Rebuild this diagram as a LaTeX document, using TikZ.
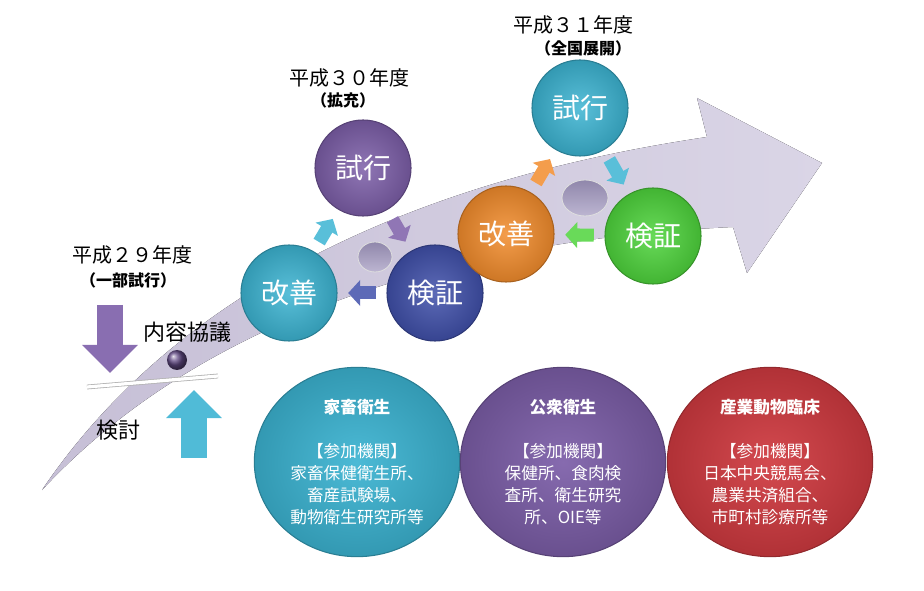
\documentclass[tikz,border=0pt]{standalone}
\usepackage{fontspec}
\setmainfont{Noto Sans CJK JP}
\usepackage{tikz}
\usetikzlibrary{shapes.geometric,arrows.meta}
\definecolor{swooshdk}{RGB}{198,191,214}
\definecolor{swooshlt}{RGB}{218,213,230}
\definecolor{tealc}{RGB}{60,180,210}
\definecolor{purpc}{RGB}{124,94,168}
\definecolor{bluec}{RGB}{64,80,170}
\definecolor{orangec}{RGB}{242,140,44}
\definecolor{greenc}{RGB}{78,212,60}
\definecolor{redc}{RGB}{208,58,64}
\definecolor{diskc}{RGB}{160,150,190}
\tikzset{
  font={\fontsize{11pt}{14pt}\selectfont},
  cyc/.style={circle, minimum size=72pt, inner sep=0pt, text=white,
    inner color=#1!85!white, outer color=#1!85!black, draw=#1!70!black, line width=0.8pt,
    font={\fontsize{21pt}{24pt}\selectfont}},
  field/.style={ellipse, minimum width=154pt, minimum height=142pt, inner sep=0pt,
    text=white, align=center,
    inner color=#1!92!white, outer color=#1!85!black, draw=#1!70!black, line width=0.8pt,
    font={\fontsize{12.5pt}{16.5pt}\selectfont}},
  cyarr/.style={draw=#1!85!white, line width=9.75pt, shorten <=8pt, shorten >=8pt,
    -{Triangle[length=9pt,width=19pt]}},
  bigarr/.style={draw=#1!90!white, line width=20pt, -{Triangle[length=21pt,width=40.5pt]}},
  disk/.style={ellipse, inner sep=0pt, top color=diskc!90!black, bottom color=diskc!70!white,
    draw=white!75!gray, line width=0.6pt},
  barline/.style={draw=gray!60, double=white, double distance=2.4pt, line width=0.6pt},
  yearlbl/.style={font={\fontsize{15pt}{18pt}\selectfont}},
  sublbl/.style={font={\bfseries\fontsize{12pt}{14pt}\selectfont}},
  steplbl/.style={font={\fontsize{16.5pt}{20pt}\selectfont}}
}

\begin{document}
\begin{tikzpicture}[x=0.75pt,y=-0.75pt]
\useasboundingbox (0,0) rectangle (924,591);
\fill [left color=swooshdk, right color=swooshlt] (42,490) .. controls (150,330) and (350,190) .. (707,137)
  -- (697,98) -- (822,163) -- (747,273) -- (733,227) .. controls (450,240) and (200,320) .. (42,490) -- cycle;
\coordinate (barL) at (87,387);
\coordinate (barR) at (218,376);
\draw [barline] (barL) -- (barR);
\node [circle, minimum size=15pt, inner sep=0pt, ball color=purpc!80!black] (ball) at (177,360) {};
\coordinate (dnA) at (110,305);
\coordinate (dnB) at (110,373);
\draw [bigarr=purpc] (dnA) -- (dnB);
\coordinate (upA) at (194,458);
\coordinate (upB) at (194,390);
\draw [bigarr=tealc] (upA) -- (upB);
\node [yearlbl] (y29) at (132,255) {平成２９年度};
\node [sublbl] (y29s) at (128,280) {（一部試行）};
\node [steplbl] (kyogi) at (187,332) {内容協議};
\node [steplbl] (kento) at (118,430) {検討};
\node [yearlbl] (y30) at (349,78) {平成３０年度};
\node [sublbl] (y30s) at (343,100) {（拡充）};
\node [yearlbl] (y31) at (573,25) {平成３１年度};
\node [sublbl] (y31s) at (583,48) {（全国展開）};
\node [disk, minimum width=25.5pt, minimum height=22.5pt] (hub1) at (375,257) {};
\node [disk, minimum width=34.5pt, minimum height=27pt] (hub2) at (585,198) {};
\node [cyc=tealc] (kz1) at (289,293) {改善};
\node [cyc=purpc] (sk1) at (363,168) {試行};
\node [cyc=bluec] (kn1) at (435,293) {検証};
\node [cyc=orangec] (kz2) at (506,234) {改善};
\node [cyc=tealc] (sk2) at (580,108) {試行};
\node [cyc=greenc] (kn2) at (653,236) {検証};
\draw [cyarr=tealc] (kz1) -- (sk1);
\draw [cyarr=purpc] (sk1) -- (kn1);
\draw [cyarr=bluec] (kn1) -- (kz1);
\draw [cyarr=orangec] (kz2) -- (sk2);
\draw [cyarr=tealc] (sk2) -- (kn2);
\draw [cyarr=greenc] (kn2) -- (kz2);
\node [field=tealc] (kachiku) at (357,462) {\textbf{家畜衛生}\\[16.5pt]【参加機関】\\家畜保健衛生所、\\畜産試験場、\\動物衛生研究所等};
\node [field=purpc] (koshu) at (563,462) {\textbf{公衆衛生}\\[16.5pt]【参加機関】\\保健所、食肉検\\査所、衛生研究\\所、OIE等};
\node [field=redc] (sangyo) at (770,462) {\textbf{産業動物臨床}\\[16.5pt]【参加機関】\\日本中央競馬会、\\農業共済組合、\\市町村診療所等};
\end{tikzpicture}
\end{document}
